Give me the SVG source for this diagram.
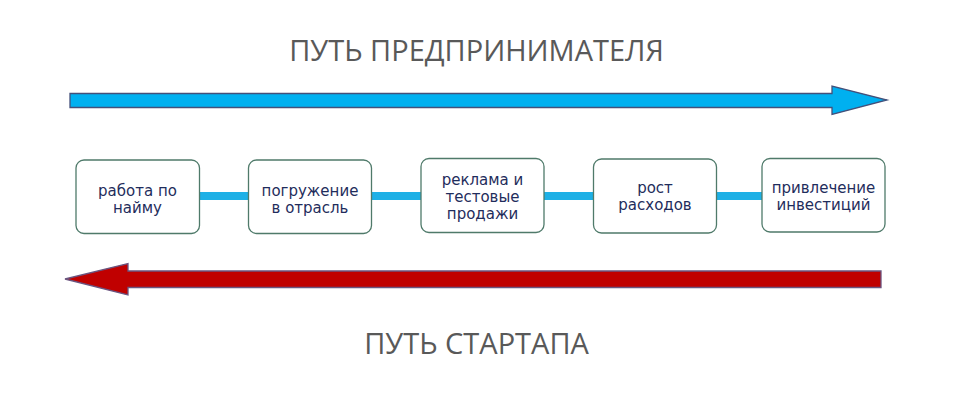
<svg xmlns="http://www.w3.org/2000/svg" width="956" height="404" viewBox="0 0 956 404">
<style>
.title{font-family:"Open Sans","Liberation Sans",sans-serif;font-size:29px;fill:#595959;text-anchor:middle}
.box{fill:#ffffff;stroke:#4f7a6a;stroke-width:1.3}
.lbl{font-family:"DejaVu Sans","Liberation Sans",sans-serif;font-size:15px;fill:#1f2d5c;text-anchor:middle}
.conn{stroke:#1eb0e6;stroke-width:8;fill:none}
</style>
<rect width="956" height="404" fill="#ffffff"/>
<text class="title" x="476.5" y="61">ПУТЬ ПРЕДПРИНИМАТЕЛЯ</text>
<text class="title" x="476.5" y="354">ПУТЬ СТАРТАПА</text>
<polygon id="arrow-right" points="70,93.5 832,93.5 832,86 887,100 832,114.5 832,107.5 70,107.5" fill="#00b0f0" stroke="#44507a" stroke-width="1.3"/>
<polygon id="arrow-left" points="65,279 128,263.5 128,271 881,271 881,287.5 128,287.5 128,295" fill="#c00000" stroke="#6a5580" stroke-width="1.3"/>
<g id="connectors">
<line class="conn" x1="199" y1="196" x2="248" y2="196"/>
<line class="conn" x1="372" y1="196" x2="421" y2="196"/>
<line class="conn" x1="544" y1="196" x2="593" y2="196"/>
<line class="conn" x1="717" y1="196" x2="762" y2="196"/>
</g>
<g id="node1">
<rect class="box" x="76" y="160" width="123.5" height="73.5" rx="8"/>
<text class="lbl" x="137.5" y="196">работа по</text>
<text class="lbl" x="137.5" y="213">найму</text>
</g>
<g id="node2">
<rect class="box" x="248.5" y="160" width="123" height="73.5" rx="8"/>
<text class="lbl" x="310" y="196">погружение</text>
<text class="lbl" x="310" y="213">в отрасль</text>
</g>
<g id="node3">
<rect class="box" x="421" y="158.5" width="123" height="74" rx="8"/>
<text class="lbl" x="482.5" y="185">реклама и</text>
<text class="lbl" x="482.5" y="202">тестовые</text>
<text class="lbl" x="482.5" y="219">продажи</text>
</g>
<g id="node4">
<rect class="box" x="593.5" y="159" width="123" height="74" rx="8"/>
<text class="lbl" x="655" y="193">рост</text>
<text class="lbl" x="655" y="210">расходов</text>
</g>
<g id="node5">
<rect class="box" x="762" y="158.5" width="123" height="73.5" rx="8"/>
<text class="lbl" x="823.5" y="193">привлечение</text>
<text class="lbl" x="823.5" y="210">инвестиций</text>
</g>
</svg>
